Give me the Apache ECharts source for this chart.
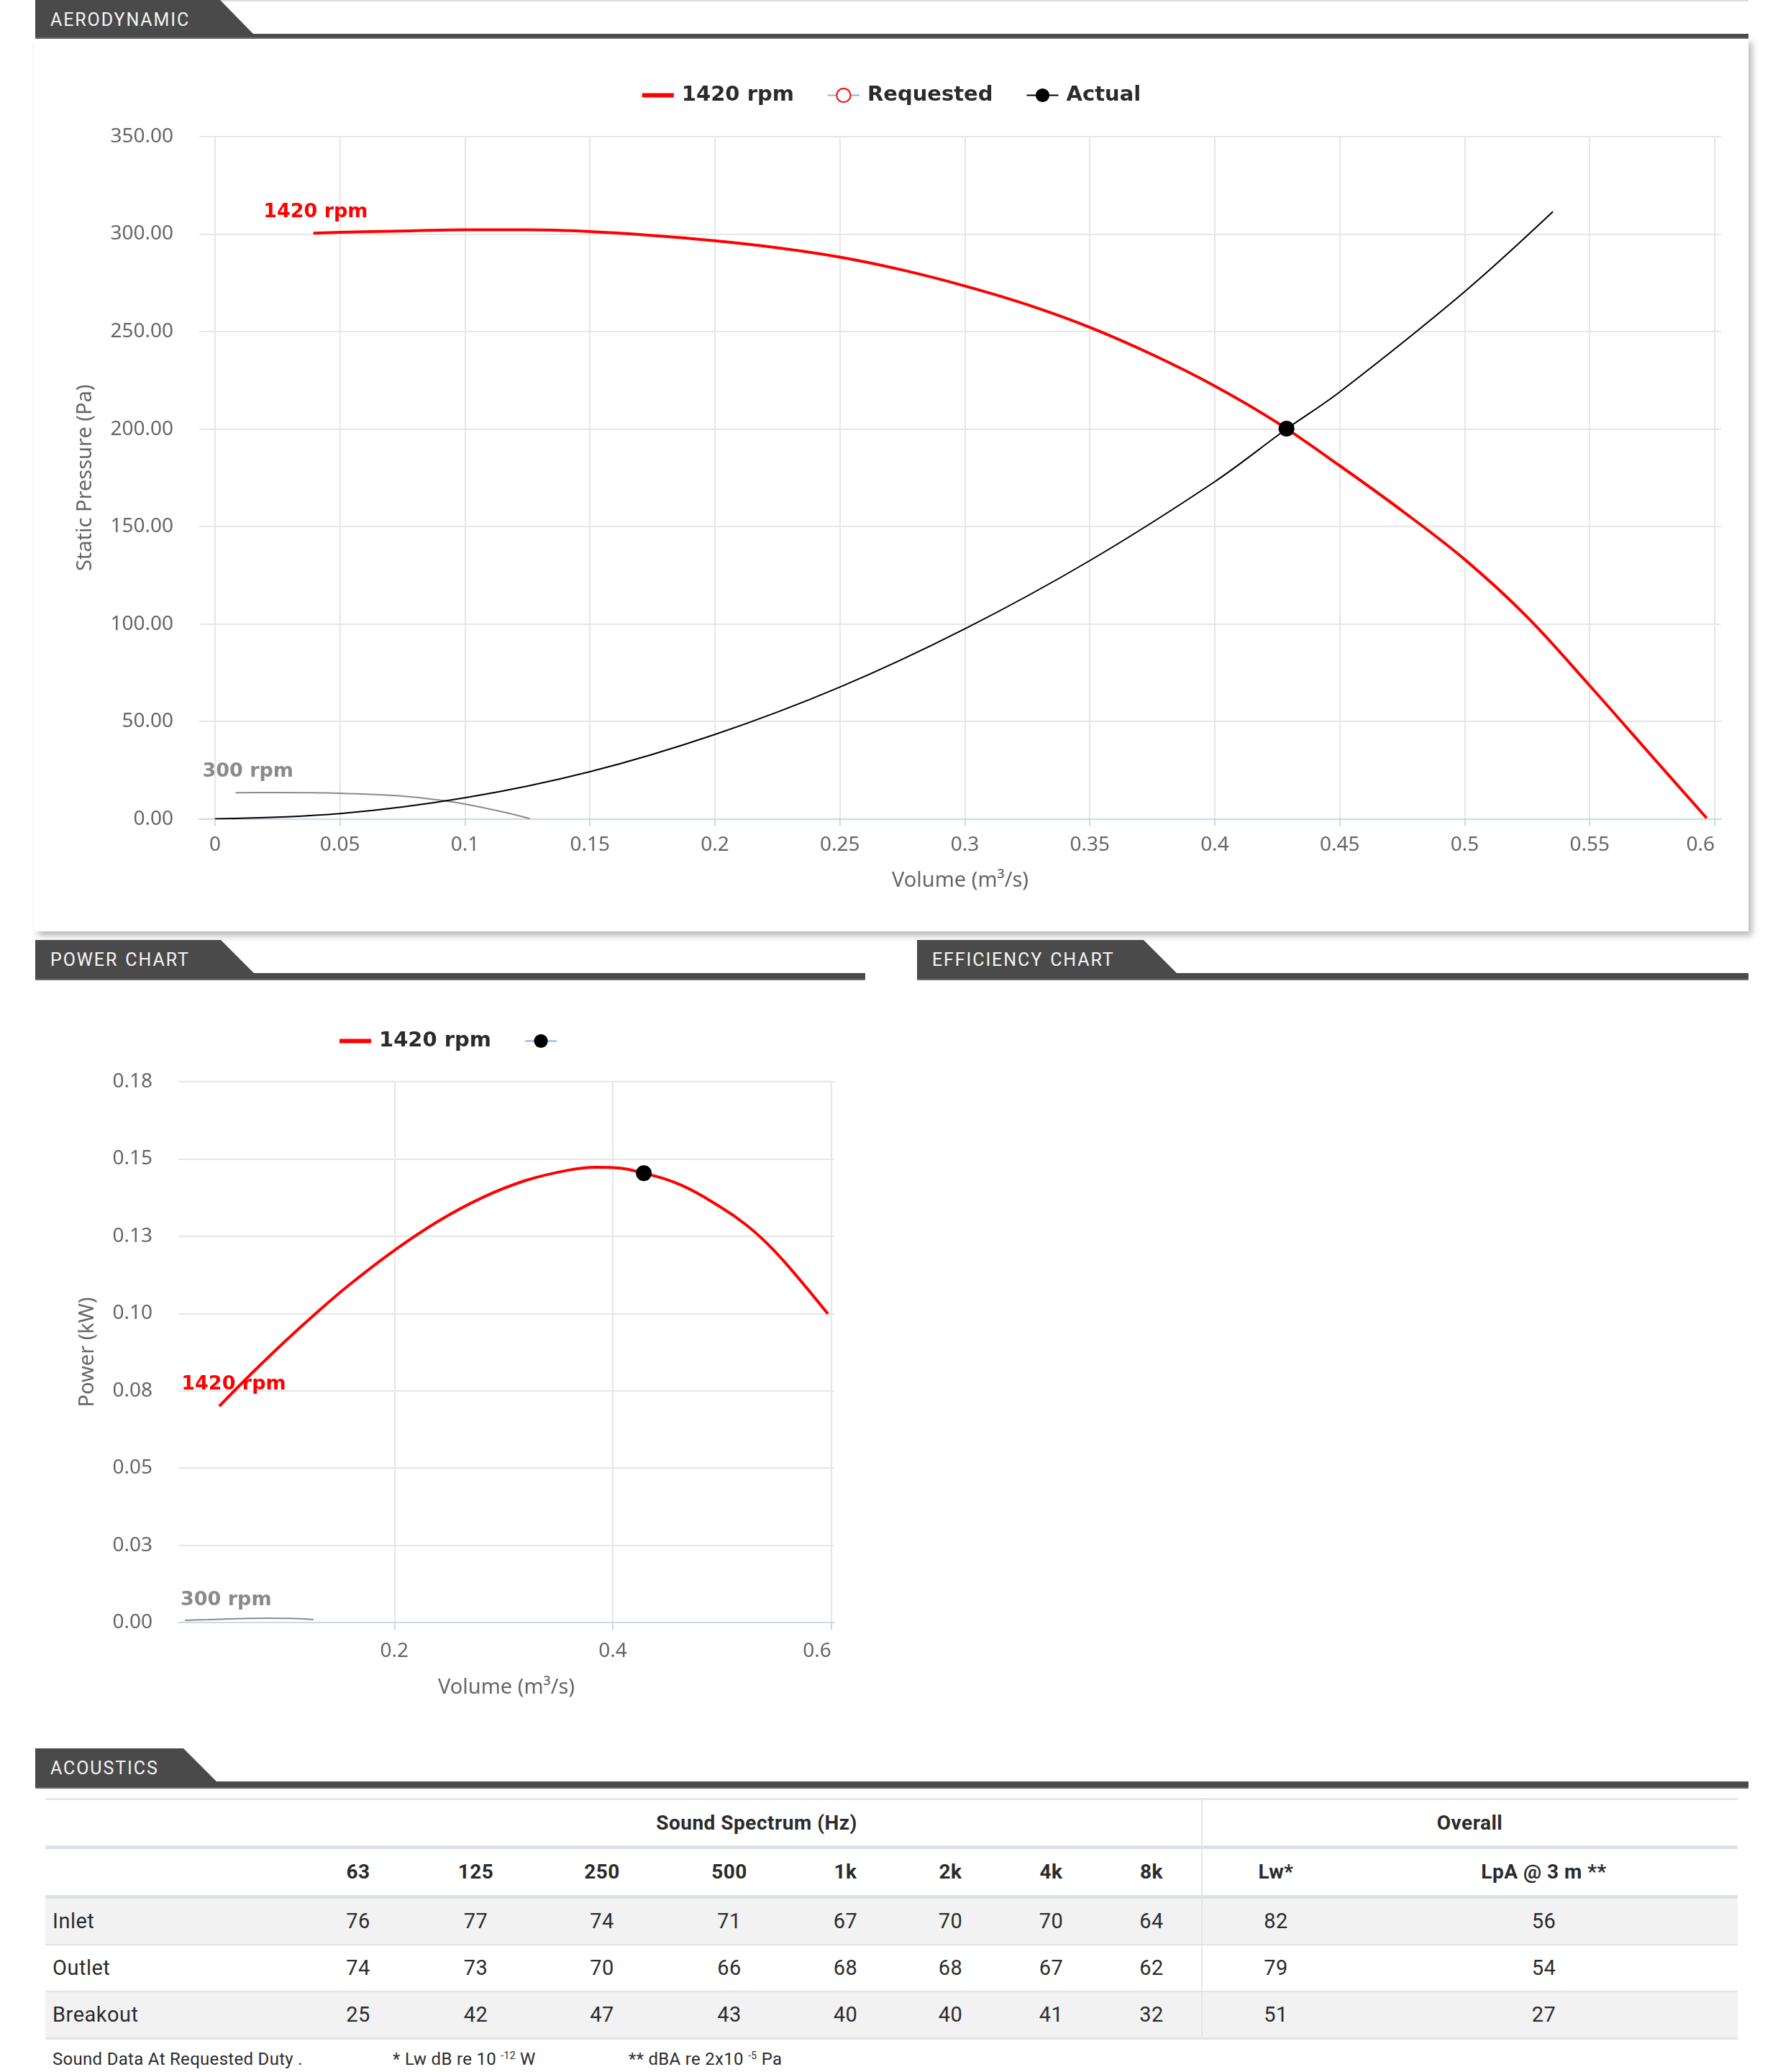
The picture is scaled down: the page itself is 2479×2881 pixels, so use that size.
<!DOCTYPE html>
<html>
<head>
<meta charset="utf-8">
<script src="https://cdn.jsdelivr.net/npm/echarts@6/dist/echarts.min.js"></script>
<style>
html,body{margin:0;padding:0;background:#fff;}
#page{position:relative;width:2479px;height:2881px;overflow:hidden;background:#fff;}
.tab{position:absolute;background:#4a4a4a;}
.tabtxt{position:absolute;color:#f5f5f5;font-family:Roboto,"Noto Sans",sans-serif;font-size:25px;line-height:25px;letter-spacing:1.9px;word-spacing:2px;white-space:nowrap;}
.bar{position:absolute;background:#4a4a4a;border-bottom:2px solid #6b6b6b;box-sizing:border-box;}
.card{position:absolute;background:#fff;box-shadow:5px 6px 9px rgba(0,0,0,0.28);}
#acoustics{position:absolute;left:63px;top:2500px;width:2353px;font-family:Roboto,"Noto Sans",sans-serif;color:#2b2b2b;letter-spacing:0.5px;}
.row{display:flex;}
.cell{text-align:center;white-space:nowrap;}
.hline{width:100%;}
.vdiv{position:absolute;top:0;width:2px;background:#e3e6ea;}
#foot{position:absolute;top:2849px;font-family:Roboto,"Noto Sans",sans-serif;font-size:24px;color:#2b2b2b;white-space:nowrap;letter-spacing:0.3px;}
#foot sup{font-size:14px;vertical-align:8px;}
#chart{position:absolute;left:0;top:0;width:2479px;height:2881px;}
</style>
</head>
<body>
<div id="page">
  <div style="position:absolute;left:300px;top:0;width:2131px;height:2px;background:#dcdcdc"></div>
  <div class="card" style="left:48px;top:53px;width:2383px;height:1242px"></div>
  <div id="headers"></div>
  <div id="acoustics"></div>
  <div id="foot"></div>
  <div id="chart"></div>
</div>
<script>
// ---------------- data ----------------
const pressureXTicks = [0, 0.05, 0.1, 0.15, 0.2, 0.25, 0.3, 0.35, 0.4, 0.45, 0.5, 0.55, 0.6];
const powerXTicks = [0.2, 0.4, 0.6];
const powerYLabels = ['0.00', '0.03', '0.05', '0.08', '0.10', '0.13', '0.15', '0.18'];

// Fan curve 1420 rpm (volume m3/s, static pressure Pa)
const fanQ1420 = [0.0394, 0.05, 0.075, 0.1, 0.125, 0.15, 0.175, 0.2, 0.225, 0.25, 0.275, 0.3, 0.325, 0.35, 0.375, 0.4, 0.425, 0.45, 0.475, 0.5, 0.525, 0.55, 0.575, 0.5968];
const fanP1420 = [300.5, 300.9, 301.6, 302.2, 302.2, 301.3, 299.3, 296.6, 293.0, 288.2, 281.6, 273.4, 263.8, 252.2, 238.2, 222.1, 203.3, 181.2, 158.0, 133.1, 103.6, 68.4, 32.0, 0.4];
// Fan curve 300 rpm
const fanQ300 = [0.0083, 0.025, 0.05, 0.075, 0.09, 0.1, 0.115, 0.126];
const fanP300 = [13.4, 13.5, 13.1, 11.7, 9.6, 7.6, 3.6, 0.1];
// System curve
const systemQ = [0, 0.05, 0.1, 0.15, 0.2, 0.25, 0.3, 0.35, 0.4, 0.4287, 0.45, 0.5, 0.5353];
const systemP = [0, 2.7, 10.8, 24.2, 43.3, 67.6, 97.5, 132.5, 173.0, 200.0, 219.0, 270.5, 311.5];
const requestedPoint = [0.4287, 200.0];
const actualPoint = [0.4287, 200.2];

// Power curve 1420 rpm (volume m3/s, kW)
const powerQ1420 = [0.0398, 0.07, 0.1, 0.13, 0.16, 0.2, 0.24, 0.28, 0.32, 0.36, 0.385, 0.4, 0.4284, 0.4627, 0.4983, 0.522, 0.5417, 0.5614, 0.5969];
const powerKW1420 = [0.0700, 0.0808, 0.0910, 0.1006, 0.1096, 0.1204, 0.1298, 0.1374, 0.1430, 0.1464, 0.1473, 0.1472, 0.1454, 0.1415, 0.1345, 0.1287, 0.1225, 0.1150, 0.0999];
const powerQ300 = [0.0084, 0.03, 0.05, 0.07, 0.085, 0.1, 0.115, 0.126];
const powerKW300 = [0.0007, 0.00095, 0.00118, 0.00132, 0.00138, 0.00135, 0.00122, 0.00094];
const actualPowerPoint = [0.4284, 0.1454];

// Acoustics
const soundBands = ['63', '125', '250', '500', '1k', '2k', '4k', '8k'];
const overallHeads = ['Lw*', 'LpA @ 3 m **'];
const rowNames = ['Inlet', 'Outlet', 'Breakout'];
const inletSpectrum = [76, 77, 74, 71, 67, 70, 70, 64];
const outletSpectrum = [74, 73, 70, 66, 68, 68, 67, 62];
const breakoutSpectrum = [25, 42, 47, 43, 40, 40, 41, 32];
const overallLw = [82, 79, 51];
const overallLpA = [56, 54, 27];

// ---------------- section headers ----------------
function header(left, top, width, tabTopW, tabW, tabH, barH, text) {
  const h = document.getElementById('headers');
  const tab = document.createElement('div');
  tab.className = 'tab';
  tab.style.cssText = `left:${left}px;top:${top}px;width:${tabW}px;height:${tabH}px;clip-path:polygon(0 0, ${tabTopW}px 0, ${tabW}px 100%, 0 100%);`;
  h.appendChild(tab);
  const bar = document.createElement('div');
  bar.className = 'bar';
  bar.style.cssText = `left:${left}px;top:${top + tabH}px;width:${width}px;height:${barH}px;`;
  h.appendChild(bar);
  const t = document.createElement('div');
  t.className = 'tabtxt';
  t.style.cssText = `left:${left + 21}px;top:${top + 15}px;`;
  t.textContent = text;
  h.appendChild(t);
}
header(49, 0, 2382, 257, 303, 47, 7, 'AERODYNAMIC');
header(49, 1307, 1154, 258, 304, 46, 10, 'POWER CHART');
header(1275, 1307, 1156, 315, 361, 46, 10, 'EFFICIENCY CHART');
header(49, 2431, 2382, 206, 252, 46, 10, 'ACOUSTICS');

// ---------------- acoustics table ----------------
(function () {
  const colW = [356, 158, 169, 182, 172, 151, 141, 139, 140, 206, 539];
  const box = document.getElementById('acoustics');
  let html = '';
  const line = (h, c) => `<div class="hline" style="height:${h}px;background:${c}"></div>`;
  const cell = (w, txt, extra) => `<div class="cell" style="width:${w}px;${extra || ''}">${txt}</div>`;
  html += line(3, '#e4e7eb');
  // header row 1
  let r = `<div class="row" style="height:63px;line-height:63px;font-weight:bold;font-size:28px;">`;
  r += cell(colW[0], '');
  r += cell(colW.slice(1, 9).reduce((a, b) => a + b, 0), 'Sound Spectrum (Hz)', 'padding-left:14px;box-sizing:border-box;');
  r += cell(colW[9] + colW[10], 'Overall');
  r += '</div>';
  html += r + line(5, '#dde1e6');
  // header row 2
  r = `<div class="row" style="height:64px;line-height:64px;font-weight:bold;font-size:28px;">`;
  r += cell(colW[0], '');
  soundBands.forEach((b, i) => r += cell(colW[i + 1], b));
  overallHeads.forEach((b, i) => r += cell(colW[i + 9], b));
  r += '</div>';
  html += r + line(5, '#dde1e6');
  const rows = [inletSpectrum, outletSpectrum, breakoutSpectrum];
  const bgs = ['#f2f2f2', '#ffffff', '#f2f2f2'];
  const borders = [2, 2, 3];
  rows.forEach((vals, k) => {
    let s = `<div class="row" style="height:63px;line-height:63px;font-size:29px;background:${bgs[k]}">`;
    s += cell(colW[0], rowNames[k], 'text-align:left;padding-left:10px;box-sizing:border-box;');
    vals.forEach((v, i) => s += cell(colW[i + 1], v));
    s += cell(colW[9], overallLw[k]);
    s += cell(colW[10], overallLpA[k]);
    s += '</div>';
    html += s + line(borders[k], '#e2e4e7');
  });
  html += `<div class="vdiv" style="left:${colW.slice(0, 9).reduce((a, b) => a + b, 0) - 1}px;height:336px"></div>`;
  box.innerHTML = html;
  document.getElementById('foot').innerHTML =
    '<span style="position:absolute;left:73px">Sound Data At Requested Duty .</span>' +
    '<span style="position:absolute;left:546px">* Lw dB re 10 <sup>-12</sup> W</span>' +
    '<span style="position:absolute;left:874px">** dBA re 2x10 <sup>-5</sup> Pa</span>';
})();

// ---------------- charts ----------------
const chart = echarts.init(document.getElementById('chart'), null, { renderer: 'canvas', width: 2479, height: 2881 });

const tickFont = { fontFamily: 'Noto Sans', fontSize: 28, color: '#666666' };
const nameFont = { fontFamily: 'Noto Sans', fontSize: 29, color: '#666666' };
const gridLine = { show: true, lineStyle: { color: '#e6e6e6', width: 2 } };
const axisBlue = '#ccd6eb';

function curve(qs, vs, label) {
  return qs.map((q, i) => (i === 0 && label)
    ? { value: [q, vs[i]], symbol: 'circle', symbolSize: 1, label: label }
    : [q, vs[i]]);
}
function rpmLabel(text, color, offset, distance) {
  return {
    show: true, formatter: text, position: 'top', distance: distance, offset: offset,
    color: color, fontFamily: 'DejaVu Sans', fontWeight: 'bold', fontSize: 27
  };
}

const legendText = { fontFamily: 'DejaVu Sans', fontWeight: 'bold', fontSize: 29, color: '#2b2b2b', padding: [0, 0, 0, 6] };
const barIcon = 'path://M0,0H44V6H0Z';

const option = {
  animation: false,
  backgroundColor: 'transparent',
  legend: [
    {
      data: [{ name: '1420 rpm', icon: barIcon }, 'Requested', 'Actual'], left: 'center', top: 113,
      itemWidth: 44, itemHeight: 24, itemGap: 46, selectedMode: false, textStyle: legendText
    },
    {
      data: [{ name: '1420 rpm', icon: barIcon }, ' '], left: 467, top: 1428,
      itemWidth: 44, itemHeight: 24, itemGap: 46, selectedMode: false, textStyle: legendText
    }
  ],
  grid: [
    { left: 277, top: 190, width: 2116, height: 948.6 },
    { left: 248, top: 1504, width: 912, height: 752 }
  ],
  xAxis: [
    {
      type: 'value', gridIndex: 0, min: -0.0063, max: 0.6026,
      name: 'Volume (m³/s)', nameLocation: 'middle', nameGap: 72, nameTextStyle: nameFont,
      axisLine: { show: true, lineStyle: { color: axisBlue, width: 2 } },
      axisTick: { show: true, length: 10, customValues: pressureXTicks, lineStyle: { color: axisBlue, width: 2 } },
      axisLabel: Object.assign({ customValues: pressureXTicks, margin: 22, alignMaxLabel: 'right', formatter: v => String(v) }, tickFont),
      splitLine: gridLine
    },
    {
      type: 'value', gridIndex: 1, min: 0.0023, max: 0.6028,
      name: 'Volume (m³/s)', nameLocation: 'middle', nameGap: 76, nameTextStyle: nameFont,
      axisLine: { show: true, lineStyle: { color: axisBlue, width: 2 } },
      axisTick: { show: true, length: 10, customValues: powerXTicks, lineStyle: { color: axisBlue, width: 2 } },
      axisLabel: Object.assign({ customValues: powerXTicks, margin: 26, alignMaxLabel: 'right', formatter: v => String(v) }, tickFont),
      splitLine: gridLine
    }
  ],
  yAxis: [
    {
      type: 'value', gridIndex: 0, min: 0, max: 350, interval: 50,
      name: 'Static Pressure (Pa)', nameLocation: 'middle', nameGap: 144, nameTextStyle: nameFont,
      axisLine: { show: false }, axisTick: { show: false },
      axisLabel: Object.assign({ margin: 36, formatter: v => v.toFixed(2) }, tickFont),
      splitLine: gridLine
    },
    {
      type: 'value', gridIndex: 1, min: 0, max: 0.175, interval: 0.025,
      name: 'Power (kW)', nameLocation: 'middle', nameGap: 112, nameTextStyle: nameFont,
      axisLine: { show: false }, axisTick: { show: false },
      axisLabel: Object.assign({ margin: 36, formatter: v => powerYLabels[Math.round(v / 0.025)] }, tickFont),
      splitLine: gridLine
    }
  ],
  series: [
    {
      name: '1420 rpm', type: 'line', xAxisIndex: 0, yAxisIndex: 0, symbol: 'none', showSymbol: true, smooth: 0.35,
      lineStyle: { color: '#ff0000', width: 4 }, itemStyle: { color: '#ff0000' }, z: 3,
      data: curve(fanQ1420, fanP1420, rpmLabel('1420 rpm', '#ff0000', [3, 0], 15))
    },
    {
      name: '300 rpm', type: 'line', xAxisIndex: 0, yAxisIndex: 0, symbol: 'none', showSymbol: true, smooth: 0.35,
      lineStyle: { color: '#8a8a8a', width: 2 }, itemStyle: { color: '#8a8a8a' }, z: 2,
      data: curve(fanQ300, fanP300, rpmLabel('300 rpm', '#8a8a8a', [17, 0], 15))
    },
    {
      name: 'System', type: 'line', xAxisIndex: 0, yAxisIndex: 0, symbol: 'none', smooth: 0.35,
      lineStyle: { color: '#000000', width: 2 }, z: 2,
      data: curve(systemQ, systemP, null)
    },
    {
      name: 'Requested', type: 'line', xAxisIndex: 0, yAxisIndex: 0, symbol: 'circle', symbolSize: 16,
      itemStyle: { color: '#ffffff', borderColor: '#ff0000', borderWidth: 2 },
      lineStyle: { color: '#7cb5ec', width: 2 }, z: 4,
      data: [requestedPoint]
    },
    {
      name: 'Actual', type: 'line', xAxisIndex: 0, yAxisIndex: 0, symbol: 'circle', symbolSize: 22,
      itemStyle: { color: '#000000' }, lineStyle: { color: '#000000', width: 2 }, z: 5,
      data: [actualPoint]
    },
    {
      name: '1420 rpm', type: 'line', xAxisIndex: 1, yAxisIndex: 1, symbol: 'none', showSymbol: true, smooth: 0.4,
      lineStyle: { color: '#ff0000', width: 4 }, itemStyle: { color: '#ff0000' }, z: 3,
      data: curve(powerQ1420, powerKW1420, rpmLabel('1420 rpm', '#ff0000', [20, 0], 16))
    },
    {
      name: '300 rpm ', type: 'line', xAxisIndex: 1, yAxisIndex: 1, symbol: 'none', showSymbol: true, smooth: 0.35,
      lineStyle: { color: '#8a8a8a', width: 2 }, itemStyle: { color: '#8a8a8a' }, z: 2,
      data: curve(powerQ300, powerKW300, rpmLabel('300 rpm', '#8a8a8a', [57, 0], 14))
    },
    {
      name: ' ', type: 'line', xAxisIndex: 1, yAxisIndex: 1, symbol: 'circle', symbolSize: 22,
      itemStyle: { color: '#000000' }, lineStyle: { color: '#7cb5ec', width: 2 }, z: 5,
      data: [actualPowerPoint]
    }
  ]
};
chart.setOption(option);
</script>
</body>
</html>
